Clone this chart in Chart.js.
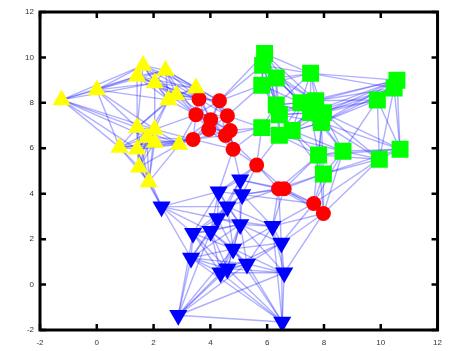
<!DOCTYPE html>
<html>
<head>
<meta charset="utf-8">
<script src="https://cdn.jsdelivr.net/npm/chart.js@4"></script>
<style>
  html, body { margin: 0; padding: 0; background: #fff; }
  #graf { display: block; }
</style>
</head>
<body>
<canvas id="graf" width="450" height="351"></canvas>
<script>
// Punkterna i de fyra grupperna
const gulX = [-1.24, 0.0, 1.63, 2.42, 1.42, 2.04, 2.52, 2.80, 3.49, 1.42, 2.04, 2.04, 0.80, 1.42, 2.90, 1.49, 1.83, 1.77];
const gulY = [8.13, 8.57, 9.65, 9.43, 9.17, 8.87, 8.13, 8.35, 8.65, 6.91, 6.83, 6.26, 6.04, 5.96, 6.17, 5.17, 4.52, 6.48];

const rodX = [3.60, 4.32, 3.49, 4.01, 4.60, 3.94, 4.70, 3.39, 4.53, 4.80, 5.63, 6.40, 6.60, 7.64, 7.98];
const rodY = [8.17, 8.09, 7.48, 7.26, 7.43, 6.83, 6.78, 6.39, 6.57, 5.96, 5.26, 4.22, 4.22, 3.57, 3.13];

const gronX = [5.91, 5.84, 6.32, 7.53, 5.81, 10.57, 10.47, 9.88, 6.32, 7.19, 7.71, 6.43, 7.53, 7.98, 7.91, 5.81, 6.43, 6.88, 7.81, 8.67, 9.95, 10.68, 7.98];
const gronY = [10.17, 9.65, 9.09, 9.30, 8.78, 9.00, 8.65, 8.13, 7.91, 8.00, 8.09, 7.48, 7.57, 7.57, 7.13, 6.91, 6.57, 6.78, 5.70, 5.87, 5.52, 5.96, 4.87];

const blaX = [2.28, 5.05, 4.29, 5.12, 4.60, 4.25, 3.39, 5.05, 6.19, 6.50, 4.80, 3.32, 5.29, 4.36, 4.60, 6.60, 2.87, 6.53, 4.01];
const blaY = [3.43, 4.61, 4.09, 3.96, 3.43, 2.91, 2.26, 2.65, 2.57, 1.83, 1.57, 1.17, 0.91, 0.52, 0.70, 0.52, -1.35, -1.65, 2.35];

// Axelgränser och tickvärden
const axelTicks = [-2, 0, 2, 4, 6, 8, 10, 12];

// Grafen: varje punkt kopplas till sina K närmaste grannar
const K = 9;

const tillPunkter = (xs, ys) => xs.map((x, i) => ({ x: x, y: ys[i] }));
const allaPunkter = [].concat(
    tillPunkter(gulX, gulY), tillPunkter(rodX, rodY),
    tillPunkter(gronX, gronY), tillPunkter(blaX, blaY));

const kanter = new Set();
allaPunkter.forEach((p, i) => {
    const grannar = allaPunkter
        .map((q, j) => ({ j: j, d: Math.hypot(p.x - q.x, p.y - q.y) }))
        .filter(o => o.j !== i)
        .sort((a, b) => a.d - b.d)
        .slice(0, K);
    grannar.forEach(o => kanter.add(Math.min(i, o.j) + '-' + Math.max(i, o.j)));
});

const kantDataset = [...kanter].map(k => {
    const [a, b] = k.split('-').map(Number);
    return {
        data: [allaPunkter[a], allaPunkter[b]],
        showLine: true,
        borderColor: 'rgba(20, 20, 255, 0.34)',
        borderWidth: 1.4,
        pointRadius: 0,
        order: 2
    };
});

// Ram och inåtriktade tickmarkeringar
const ramPlugin = {
    id: 'ram',
    afterDraw(chart) {
        const { ctx, chartArea: a, scales } = chart;
        ctx.save();
        ctx.strokeStyle = '#000';
        ctx.lineWidth = 2.5;
        axelTicks.forEach(v => {
            const px = scales.x.getPixelForValue(v);
            const py = scales.y.getPixelForValue(v);
            ctx.beginPath();
            ctx.moveTo(px, a.bottom); ctx.lineTo(px, a.bottom - 6);
            ctx.moveTo(px, a.top); ctx.lineTo(px, a.top + 6);
            ctx.moveTo(a.left, py); ctx.lineTo(a.left + 6, py);
            ctx.moveTo(a.right, py); ctx.lineTo(a.right - 6, py);
            ctx.stroke();
        });
        ctx.lineWidth = 3;
        ctx.strokeRect(a.left, a.top, a.right - a.left, a.bottom - a.top);
        ctx.restore();
    }
};

const tickFont = { family: 'Liberation Sans', size: 8 };

new Chart(document.getElementById('graf').getContext('2d'), {
    type: 'scatter',
    data: {
        datasets: [
            { data: tillPunkter(gulX, gulY), pointStyle: 'triangle', pointRadius: 10.5, backgroundColor: '#ffff00', borderWidth: 0, order: 0 },
            { data: tillPunkter(rodX, rodY), pointStyle: 'circle', pointRadius: 7.5, backgroundColor: '#ff0000', borderWidth: 0, order: 0 },
            { data: tillPunkter(gronX, gronY), pointStyle: 'rect', pointRadius: 12, backgroundColor: '#00ff00', borderWidth: 0, order: 0 },
            { data: tillPunkter(blaX, blaY), pointStyle: 'triangle', rotation: 180, pointRadius: 10.5, backgroundColor: '#0000ff', borderWidth: 0, order: 0 }
        ].concat(kantDataset)
    },
    options: {
        responsive: false,
        animation: false,
        layout: { padding: { top: 8, right: 3, left: 0, bottom: 0 } },
        plugins: { legend: { display: false }, tooltip: { enabled: false } },
        scales: {
            x: {
                min: -2, max: 12,
                afterBuildTicks: s => { s.ticks = axelTicks.map(v => ({ value: v })); },
                afterFit: s => { s.height = 21; },
                grid: { display: false, drawTicks: false },
                border: { display: false },
                ticks: { color: '#333', font: tickFont, padding: 8, maxRotation: 0 }
            },
            y: {
                min: -2, max: 12,
                afterBuildTicks: s => { s.ticks = axelTicks.map(v => ({ value: v })); },
                afterFit: s => { s.width = 40; },
                grid: { display: false, drawTicks: false },
                border: { display: false },
                ticks: { color: '#333', font: tickFont, padding: 6 }
            }
        }
    },
    plugins: [ramPlugin]
});
</script>
</body>
</html>
